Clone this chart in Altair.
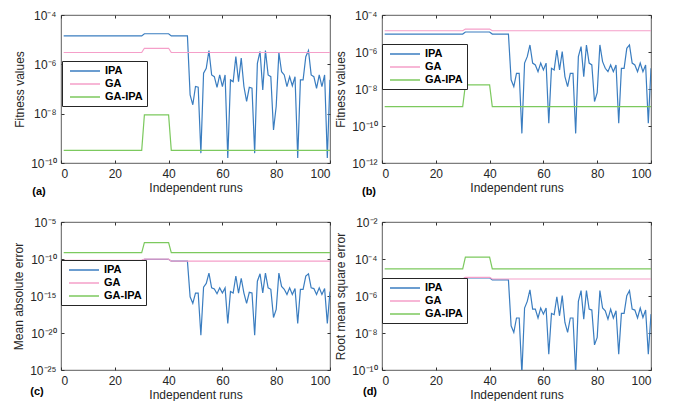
import altair as alt
import pandas as pd

runs = list(range(1, 101))
series_names = ["IPA", "GA", "GA-IPA"]
series_colors = ["#3A7DC0", "#F59FC9", "#7CC95E"]
x_ticks = [0, 20, 40, 60, 80, 100]

# ---- values, stored as log10 of the plotted value ----
# panel (a) fitness values
ipa_a = [-4.85] * 30 + [-4.76] * 10 + [-4.85] * 7 + [
    -7.24, -7.64, -6.90, -6.93, -9.60, -6.36, -6.16, -5.44, -6.43, -6.50,
    -6.93, -6.43, -6.90, -6.43, -9.80, -6.63, -6.70, -5.69, -6.70, -5.75,
    -6.90, -7.50, -6.93, -6.97, -9.60, -5.96, -5.48, -7.04, -5.44, -6.43,
    -6.50, -8.66, -7.70, -5.52, -6.30, -6.43, -6.90, -6.50, -6.87, -6.50,
    -9.80, -6.63, -6.63, -5.69, -5.44, -6.43, -6.50, -6.97, -6.43, -6.90,
    -6.43, -9.80, -6.63]
ga_a = [-5.52] * 30 + [-5.35] * 10 + [-5.52] * 60
gaipa_a = [-9.49] * 30 + [-8.05] * 10 + [-9.49] * 60

# panel (b) fitness values
ipa_b = [-5.03] * 30 + [-4.92] * 10 + [-5.03] * 7 + [
    -7.50, -7.87, -7.15, -7.15, -10.40, -6.60, -6.25, -5.62, -6.60, -6.70,
    -7.06, -6.60, -6.97, -6.60, -9.85, -6.88, -6.97, -5.89, -6.97, -5.98,
    -7.33, -7.87, -7.15, -7.15, -10.40, -6.25, -5.71, -7.33, -5.62, -6.60,
    -6.70, -8.68, -8.20, -5.62, -6.52, -6.88, -7.06, -6.70, -7.06, -6.70,
    -9.85, -6.88, -6.88, -5.80, -5.62, -6.60, -6.70, -7.06, -6.60, -7.06,
    -6.70, -9.85, -6.88]
ga_b = [-4.85] * 30 + [-4.76] * 10 + [-4.85] * 60
gaipa_b = [-8.95] * 30 + [-7.78] * 10 + [-8.95] * 60

# panel (c) mean absolute error
ipa_c = [-10.20] * 30 + [-10.05] * 10 + [-10.30] * 7 + [
    -15.1, -16.0, -14.6, -14.6, -20.3, -13.8, -13.3, -11.9, -13.9, -14.05,
    -14.7, -13.9, -14.6, -13.9, -18.7, -14.4, -14.6, -12.3, -14.6, -12.6,
    -14.6, -16.0, -14.5, -14.6, -20.3, -13.0, -12.0, -14.6, -11.9, -13.9,
    -14.1, -17.9, -16.8, -11.9, -13.7, -14.1, -14.8, -13.9, -14.8, -14.0,
    -18.7, -14.1, -14.1, -12.3, -12.0, -13.9, -14.0, -14.8, -13.9, -14.8,
    -14.0, -18.7, -14.4]
ga_c = [-10.17] * 30 + [-10.03] * 10 + [-10.30] * 60
gaipa_c = [-9.13] * 30 + [-7.79] * 10 + [-9.13] * 60

# panel (d) root mean square error
ipa_d = [-5.08] * 30 + [-5.02] * 10 + [-5.13] * 7 + [
    -7.61, -7.97, -7.19, -7.19, -10.2, -6.65, -6.29, -5.67, -6.71, -6.71,
    -7.19, -6.65, -6.98, -6.65, -9.15, -6.94, -7.01, -6.04, -7.07, -5.98,
    -7.43, -7.97, -7.19, -7.19, -10.2, -6.29, -5.71, -7.25, -5.71, -6.71,
    -6.76, -8.64, -8.24, -5.71, -6.65, -6.80, -7.25, -6.71, -7.19, -6.80,
    -9.15, -6.94, -6.94, -5.98, -5.71, -6.71, -6.76, -7.19, -6.65, -7.16,
    -6.76, -9.15, -6.98]
ga_d = [-5.08] * 30 + [-4.99] * 10 + [-5.08] * 60
gaipa_d = [-4.53] * 30 + [-3.90] * 10 + [-4.53] * 60

SUP = str.maketrans("0123456789-", "⁰¹²³⁴⁵⁶⁷⁸⁹⁻")
FONT = "Liberation Sans"
TXT = "#262626"


def label_expr(exps):
    e = "round(log(datum.value)/LN10)"
    expr = "''"
    for k in exps:
        expr = f"({e}=={k} ? '10{str(k).translate(SUP)}' : {expr})"
    return expr


def panel(ipa, ga, gaipa, exps, ytitle, tag, leg_xy, tag_xy, w, h):
    rows = []
    for name, vals in zip(series_names, [ipa, ga, gaipa]):
        for r, v in zip(runs, vals):
            rows.append({"run": r, "value": 10 ** v, "series": name})
    df = pd.DataFrame(rows)
    lo, hi = 10.0 ** min(exps), 10.0 ** max(exps)
    yvals = [10.0 ** k for k in exps]
    xsc = alt.Scale(domain=[0, 100], nice=False)
    ysc = alt.Scale(type="log", domain=[lo, hi], nice=False)
    lines = alt.Chart(df).mark_line(strokeWidth=1.2, clip=True).encode(
        x=alt.X("run:Q", scale=xsc,
                axis=alt.Axis(values=x_ticks, title="Independent runs", format="d")),
        y=alt.Y("value:Q", scale=ysc,
                axis=alt.Axis(values=yvals, labelExpr=label_expr(exps), title=ytitle)),
        color=alt.Color("series:N",
                        scale=alt.Scale(domain=series_names, range=series_colors),
                        sort=series_names,
                        legend=alt.Legend(orient="none", legendX=leg_xy[0], legendY=leg_xy[1],
                                          title=None, symbolType="M-3,0H3", symbolSize=100,
                                          symbolStrokeWidth=1.5, symbolOffset=13,
                                          labelFont=FONT, labelFontSize=11,
                                          labelFontWeight="bold", labelColor="#000",
                                          strokeColor="#262626", fillColor="white",
                                          padding=4, rowPadding=2, labelOffset=14)),
    )
    mirror = alt.Chart(df).mark_line(opacity=0).encode(
        x=alt.X("run:Q", scale=xsc,
                axis=alt.Axis(values=x_ticks, orient="top", labels=False, title=None)),
        y=alt.Y("value:Q", scale=ysc,
                axis=alt.Axis(values=yvals, orient="right", labels=False, title=None)),
    )
    tag_text = alt.Chart(pd.DataFrame({"t": [tag]})).mark_text(
        font=FONT, fontSize=11, fontWeight="bold", color="#000", align="center",
        baseline="middle").encode(text="t:N", x=alt.value(tag_xy[0]), y=alt.value(tag_xy[1]))
    return alt.layer(lines, mirror, tag_text).resolve_axis(
        x="independent", y="independent").properties(width=w, height=h)


pa = panel(ipa_a, ga_a, gaipa_a, [-4, -6, -8, -10], "Fitness values", "(a)",
           (1, 46), (-22, 177), 269, 148)
pb = panel(ipa_b, ga_b, gaipa_b, [-4, -6, -8, -10, -12], "Fitness values", "(b)",
           (0, 29), (-13, 177), 269, 148)
pc = panel(ipa_c, ga_c, gaipa_c, [-5, -10, -15, -20, -25], "Mean absolute error", "(c)",
           (0, 38), (-24, 170), 269, 148)
pd_ = panel(ipa_d, ga_d, gaipa_d, [-2, -4, -6, -8, -10], "Root mean square error", "(d)",
            (0, 56), (-12, 170), 269, 148)

chart = alt.concat(pa, pb, pc, pd_, columns=2, bounds="flush",
                   spacing={"row": 59, "column": 52}).resolve_scale(
    color="independent").resolve_legend(color="independent").properties(
    padding={"left": 4, "top": 0, "right": 0, "bottom": 0}
).configure_view(stroke="#333333", strokeWidth=0.8).configure_axis(
    domain=False, grid=False, tickColor="#333333", tickSize=3, offset=-3,
    labelFont=FONT, labelFontSize=12, labelColor=TXT, titleFont=FONT,
    titleFontSize=12, titleFontWeight="normal", titleColor=TXT
).configure_axisX(labelPadding=5, titlePadding=3).configure_axisY(
    labelPadding=5, titlePadding=4)

chart.save("out.html", embed_options={"renderer": "svg", "actions": False})
